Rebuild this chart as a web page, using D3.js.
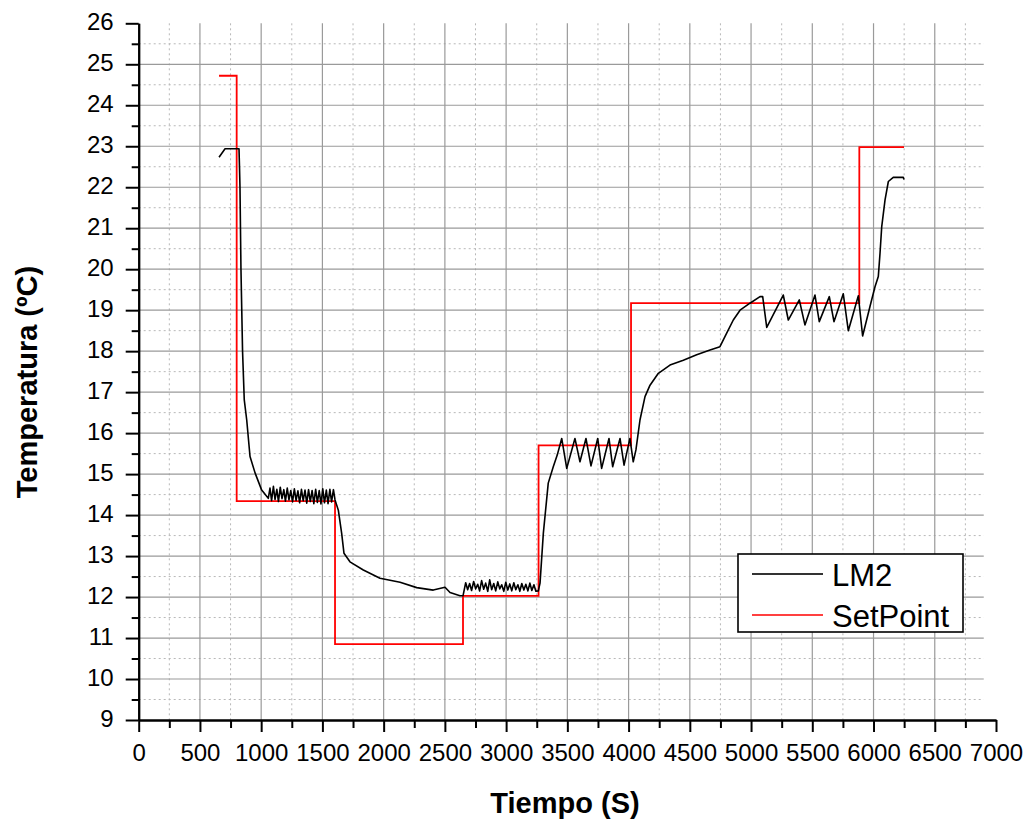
<!DOCTYPE html>
<html>
<head>
<meta charset="utf-8">
<script src="https://cdn.jsdelivr.net/npm/d3@7/dist/d3.min.js"></script>
<style>
  html, body { margin: 0; padding: 0; background: #fff; }
  svg text { font-family: "Liberation Sans", Arial, sans-serif; fill: #000; }
</style>
</head>
<body>
<svg id="chart" width="1029" height="820"></svg>
<script>
// Temperature log of sensor LM2 versus controller set point
const lm2Time = [
  656, 705, 819, 823, 827, 835, 848, 862, 882, 909, 950, 1004, 1058,
  1072, 1085, 1100, 1113, 1128, 1141, 1156, 1170, 1185, 1198, 1213, 1227, 1242, 1256,
  1271, 1285, 1300, 1314, 1329, 1343, 1358, 1372, 1387, 1401, 1416, 1430, 1445, 1459,
  1474, 1488, 1503, 1517, 1532, 1546, 1561, 1575, 1590, 1603,
  1630, 1657, 1676, 1725, 1834, 1970, 2134, 2270, 2405, 2501, 2542, 2623, 2648,
  2670, 2686, 2702, 2718, 2735, 2751, 2768, 2784, 2800, 2817, 2833, 2850, 2866, 2882,
  2899, 2915, 2932, 2948, 2964, 2981, 2997, 3014, 3030, 3046, 3063, 3079, 3096, 3112,
  3128, 3145, 3161, 3178, 3194, 3210, 3227, 3243, 3263,
  3277, 3304, 3344, 3385, 3418, 3454, 3495, 3562, 3603, 3652, 3693, 3748, 3780, 3840,
  3870, 3930, 3963, 4011, 4038, 4060, 4093, 4134, 4175, 4243, 4338, 4447, 4556, 4665,
  4746, 4801, 4855, 4910, 4991, 5073, 5095, 5128, 5263, 5304, 5394, 5440, 5522, 5557,
  5639, 5677, 5753, 5794, 5876, 5911, 5971, 6012, 6039, 6053, 6067, 6094, 6121, 6161,
  6243, 6249
];
const lm2Temp = [
  22.73, 22.94, 22.94, 22.50, 22.00, 20.00, 18.00, 16.81, 16.32, 15.43, 15.03, 14.61, 14.41,
  14.66, 14.35, 14.70, 14.38, 14.63, 14.33, 14.68, 14.40, 14.62, 14.34, 14.66, 14.37, 14.60, 14.32,
  14.64, 14.36, 14.59, 14.30, 14.63, 14.35, 14.61, 14.29, 14.62, 14.33, 14.60, 14.28, 14.63, 14.31,
  14.60, 14.27, 14.64, 14.30, 14.61, 14.28, 14.63, 14.32, 14.62, 14.37,
  14.12, 13.56, 13.07, 12.86, 12.66, 12.46, 12.36, 12.23, 12.17, 12.24, 12.11, 12.03, 12.03,
  12.35, 12.18, 12.33, 12.16, 12.38, 12.20, 12.31, 12.15, 12.40, 12.19, 12.34, 12.14, 12.42, 12.18,
  12.33, 12.15, 12.37, 12.20, 12.30, 12.14, 12.36, 12.17, 12.32, 12.15, 12.35, 12.18, 12.30, 12.14,
  12.33, 12.17, 12.31, 12.15, 12.34, 12.16, 12.30, 12.14, 12.15,
  12.34, 13.56, 14.78, 15.18, 15.47, 15.87, 15.14, 15.87, 15.30, 15.87, 15.20, 15.87, 15.14, 15.87,
  15.18, 15.87, 15.22, 15.87, 15.30, 15.59, 16.32, 16.89, 17.17, 17.46, 17.66, 17.78, 17.91, 18.03,
  18.11, 18.44, 18.76, 19.00, 19.17, 19.33, 19.33, 18.58, 19.37, 18.76, 19.25, 18.64, 19.37, 18.72,
  19.33, 18.72, 19.40, 18.50, 19.35, 18.37, 19.09, 19.57, 19.82, 20.39, 21.04, 21.69, 22.14, 22.24,
  22.24, 22.19
];

// Set point: each value holds from its time until the next one
const spTime = [656, 800, 1603, 2648, 3265, 4020, 5884, 6249];
const spTemp = [24.72, 14.34, 10.85, 12.03, 15.70, 19.17, 22.98, 22.98];

const xTicks = d3.range(0, 7001, 500);
const xMinor = d3.range(250, 7000, 500);
const yTicks = d3.range(9, 27, 1);
const yMinor = d3.range(9.5, 26, 1);

const seriesNames = ["LM2", "SetPoint"];
const seriesColors = ["#000000", "#ff0000"];

const svg = d3.select("#chart");
const x = d3.scaleLinear().domain([0, 7000]).range([138.7, 996]);
const y = d3.scaleLinear().domain([9, 26]).range([720, 23.3]);

// grid: dotted minor lines under solid major lines
const grid = svg.append("g");
grid.selectAll(".vminor").data(xMinor).join("line")
  .attr("x1", d => x(d)).attr("x2", d => x(d))
  .attr("y1", y(26)).attr("y2", y(9))
  .attr("stroke", "#b8b8b8").attr("stroke-width", 1).attr("stroke-dasharray", "2,3");
grid.selectAll(".hminor").data(yMinor).join("line")
  .attr("y1", d => y(d)).attr("y2", d => y(d))
  .attr("x1", x(0)).attr("x2", x(6900))
  .attr("stroke", "#b8b8b8").attr("stroke-width", 1).attr("stroke-dasharray", "2,3");
grid.selectAll(".vmajor").data(xTicks.filter(d => d > 0 && d < 7000)).join("line")
  .attr("x1", d => x(d)).attr("x2", d => x(d))
  .attr("y1", y(26)).attr("y2", y(9))
  .attr("stroke", "#9a9a9a").attr("stroke-width", 1.2);
grid.selectAll(".hmajor").data(yTicks.filter(d => d > 9 && d < 26)).join("line")
  .attr("y1", d => y(d)).attr("y2", d => y(d))
  .attr("x1", x(0)).attr("x2", x(6900))
  .attr("stroke", "#9a9a9a").attr("stroke-width", 1.2);

// series
const lm2 = lm2Time.map((t, i) => [t, lm2Temp[i]]);
const sp = spTime.map((t, i) => [t, spTemp[i]]);

svg.append("path")
  .datum(sp)
  .attr("fill", "none").attr("stroke", seriesColors[1]).attr("stroke-width", 1.8)
  .attr("d", d3.line().x(d => x(d[0])).y(d => y(d[1])).curve(d3.curveStepAfter));

svg.append("path")
  .datum(lm2)
  .attr("fill", "none").attr("stroke", seriesColors[0]).attr("stroke-width", 1.6)
  .attr("stroke-linejoin", "round")
  .attr("d", d3.line().x(d => x(d[0])).y(d => y(d[1])));

// axes
const fontSize = 24;
const yAxis = svg.append("g").attr("transform", `translate(${x(0)},0)`)
  .call(d3.axisLeft(y).tickValues(yTicks).tickFormat(d3.format("d"))
    .tickSize(13).tickSizeOuter(0).tickPadding(12));
const yAxisMinor = svg.append("g").attr("transform", `translate(${x(0)},0)`)
  .call(d3.axisLeft(y).tickValues(yMinor).tickFormat("").tickSize(7).tickSizeOuter(0));
const xAxis = svg.append("g").attr("transform", `translate(0,${y(9)})`)
  .call(d3.axisBottom(x).tickValues(xTicks).tickFormat(d3.format("d"))
    .tickSize(12).tickSizeOuter(0).tickPadding(12));
const xAxisMinor = svg.append("g").attr("transform", `translate(0,${y(9)})`)
  .call(d3.axisBottom(x).tickValues(xMinor).tickFormat("").tickSize(8).tickSizeOuter(0));

[yAxis, yAxisMinor, xAxis, xAxisMinor].forEach(g => {
  g.select(".domain").attr("stroke", "#000").attr("stroke-width", 2);
  g.selectAll(".tick line").attr("stroke", "#000").attr("stroke-width", 2);
  g.selectAll(".tick text").attr("font-size", fontSize).attr("font-family", "Liberation Sans, Arial, sans-serif").attr("fill", "#000");
});
yAxis.selectAll(".tick text").attr("dy", "0.27em");

// axis titles
svg.append("text")
  .attr("x", 565).attr("y", 813)
  .attr("text-anchor", "middle")
  .attr("font-size", 29).attr("font-weight", "bold")
  .text("Tiempo (S)");
svg.append("text")
  .attr("transform", "translate(37,382) rotate(-90)")
  .attr("text-anchor", "middle")
  .attr("font-size", 29).attr("font-weight", "bold")
  .text("Temperatura (ºC)");

// legend
const legend = svg.append("g").attr("transform", "translate(738,554)");
legend.append("rect")
  .attr("width", 225).attr("height", 78)
  .attr("fill", "#fff").attr("stroke", "#000").attr("stroke-width", 1.6);
seriesNames.forEach((name, i) => {
  const cy = 20 + i * 41;
  legend.append("line")
    .attr("x1", 14).attr("x2", 85).attr("y1", cy).attr("y2", cy)
    .attr("stroke", i === 0 ? "#333" : seriesColors[i]).attr("stroke-width", i === 0 ? 2 : 1.6);
  legend.append("text")
    .attr("x", 94).attr("y", cy + 12)
    .attr("font-size", 31)
    .text(name);
});
</script>
</body>
</html>
